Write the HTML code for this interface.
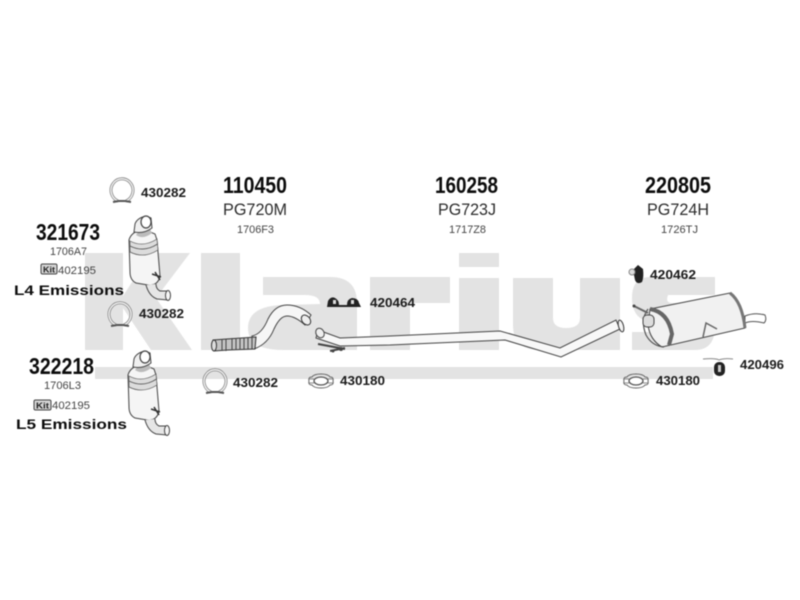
<!DOCTYPE html>
<html><head><meta charset="utf-8"><style>
html,body{margin:0;padding:0;background:#fff;width:800px;height:600px;overflow:hidden}
svg{display:block;filter:blur(.55px)}
text{font-family:"Liberation Sans",sans-serif;fill:#222}
.l{font-weight:bold;font-size:12.5px;fill:#1c1c1c}
.s{font-size:11px;fill:#444}
.m{font-size:17px;fill:#2c2c2c}
.n{font-weight:bold;font-size:23px;fill:#0c0c0c}
.e{font-weight:bold;font-size:13.5px;fill:#0c0c0c}
.w{fill:#e3e3e3}
</style></head><body>
<svg width="800" height="600" viewBox="0 0 800 600" xmlns="http://www.w3.org/2000/svg">
<defs>
<g id="cat">
 <path d="M129 240 Q131 232 143 229 L155 234 L157 240 L160 276 Q158 286 148 285 L136 283 Q130 280 130 272 Z" fill="#f5f5f5" stroke="#444"/>
 <path d="M130 241 Q143 248 157 239 L158 250 Q144 259 130 252 Z" fill="#dcdcdc" stroke="#555" stroke-width=".7"/>
 <path d="M130 246 Q144 253 157.500 244" fill="none" stroke="#555" stroke-width=".8"/>
 <path d="M136 235 Q143 240 152 233 L150 229 L140 230 Z" fill="#bbb"/>
 <path d="M134 232 L135 224 Q137 218 146 216 L151 218 L152 228 Q144 234 134 232 Z" fill="#f0f0f0" stroke="#444"/>
 <ellipse cx="146" cy="222" rx="5" ry="6" fill="#fff" stroke="#444" stroke-width="1.200"/>
 <path d="M146 285 Q149 296 157 299 L168 300 Q171 296 168 291 L160 291 Q156 289 156 284" fill="#e6e6e6" stroke="#444"/>
 <ellipse cx="168" cy="295.500" rx="2.500" ry="5" fill="#f6f6f6" stroke="#444"/>
 <path d="M152 274 L161 277 M155 272 L160 280" stroke="#333" stroke-width="1.500"/>
</g>
<g id="ring">
 <path d="M-4 10 A11 11.500 0 1 1 4 10" fill="none" stroke="#8a8a8a" stroke-width="3"/>
 <path d="M-4 10 A11 11.500 0 1 1 4 10" fill="none" stroke="#f2f2f2" stroke-width="1.400"/>
 <path d="M-9 11 L-3 10 L3 10 L9 11" fill="none" stroke="#555" stroke-width="2"/>
</g>
<g id="oval">
 <ellipse cx="0" cy="0" rx="7" ry="4" fill="#fff" stroke="#555" stroke-width="1.300"/>
 <path d="M-9 -4 Q-13 -4 -12 0 Q-13 4 -9 4 Q-7 7 0 7 Q7 7 9 4 Q13 4 12 0 Q13 -4 9 -4 Q7 -7 0 -7 Q-7 -7 -9 -4 Z" fill="none" stroke="#666"/>
 <path d="M-12 -2H-7M-12 2H-7M7 -2H12M7 2H12" stroke="#666" stroke-width=".8"/>
</g>
</defs>

<!-- watermark -->
<path class="w" d="M85 253H123V296L151 253H190L156 298L192 350H151L123 308V350H85Z"/>
<rect class="w" x="201" y="253" width="39" height="97"/>
<path class="w" d="M263 277H330Q357 277 357 303V350H283Q248 350 248 328Q248 306 283 305L320 304Q320 295 305 295H263Z"/>
<rect class="w" x="370" y="277" width="40" height="73"/>
<path class="w" d="M405 277H450V303H410Z"/>
<rect class="w" x="459" y="253" width="40" height="14"/>
<rect class="w" x="459" y="278" width="40" height="72"/>
<path class="w" d="M513 278H553V318Q553 328 566 328Q580 328 580 318V278H620V350H540Q513 350 513 325Z"/>
<path class="w" d="M650 277H715V295H668Q665 303 672 303H695Q715 305 715 326Q715 350 695 350H632V332H678Q682 325 675 322H652Q632 320 632 298Q632 277 650 277Z"/>
<rect class="w" x="95" y="367" width="618" height="12"/>

<!-- clamps -->
<use href="#ring" x="122" y="191"/>
<use href="#ring" x="120" y="315"/>
<use href="#ring" x="215" y="382"/>
<use href="#oval" x="321" y="381"/>
<use href="#oval" x="636" y="381"/>

<!-- catalysts -->
<use href="#cat"/>
<use href="#cat" x="-1" y="135"/>

<!-- flex pipe -->
<path d="M252 336 Q262 334 268 319 Q275 305 287 305 Q300 305 311 315 L305 325 Q295 316 287 316 Q280 316 274 329 Q268 344 254 349 Z" fill="#f6f6f6" stroke="#444"/>
<ellipse cx="306" cy="320" rx="4" ry="5.500" transform="rotate(-40 306 320)" fill="#eee" stroke="#333"/>
<path d="M213 340 L227 339 L256 337 L255 349 L228 350 L214 351 Z" fill="#c4c4c4" stroke="#333"/>
<path d="M222 339V351M226 339V351M232 338V350M236 338V350M240 338V350M244 338V350M248 337V349M252 337V349" stroke="#444" stroke-width="1"/>
<ellipse cx="214" cy="345.500" rx="2.500" ry="5.500" fill="#ddd" stroke="#333"/>

<!-- centre pipe -->
<path d="M318 330 L340 338 L390 336 L500 331 L560 348 L616 320 L620 329 L561 357 L505 340 L390 345 L340 346 L316 338 Z" fill="#f8f8f8" stroke="#444"/>
<ellipse cx="320" cy="333" rx="4" ry="5" transform="rotate(-30 320 333)" fill="#eee" stroke="#444"/>
<ellipse cx="621" cy="326" rx="2.500" ry="6" transform="rotate(-15 621 326)" fill="#f4f4f4" stroke="#333"/>
<path d="M318 344 L345 349 M330 351 L345 348" stroke="#444" stroke-width="2" fill="none"/>
<circle cx="333" cy="351" r="1.500" fill="#444"/><circle cx="341" cy="349" r="2" fill="#444"/>

<!-- hanger 420464 -->
<path d="M327 307 L328 301 Q331 296 335 298 Q339 300 339 305 L347 305 Q347 299 352 298 Q358 298 359 303 L361 307 Z" fill="#222"/>
<rect x="333" y="300" width="3" height="4" fill="#ddd"/><rect x="351" y="300" width="3" height="4" fill="#ddd"/>

<!-- muffler -->
<path d="M745 316 Q755 312 765 315 Q767 320 764 323 Q752 320 745 323 Z" fill="#fff" stroke="#555"/>
<path d="M650 309 L730 293 Q741 300 744 318 L745 328 L662 347 Q650 340 648 325 Z" fill="#f1f1f1" stroke="#444"/>
<path d="M730 293 Q742 302 745 328" fill="none" stroke="#777" stroke-width="3"/>
<path d="M650 309 Q668 312 672 334 L669 345" fill="none" stroke="#666" stroke-width="4"/>
<path d="M648 309 Q640 320 646 335 Q652 346 664 347" fill="none" stroke="#555" stroke-width="1.200"/>
<rect x="643" y="315" width="11" height="12" rx="4" fill="#ddd" stroke="#444"/>
<path d="M634 306 L648 313" stroke="#666" stroke-width="2"/><circle cx="634" cy="306" r="1.500" fill="#444"/>
<path d="M703 337 L706 323 L717 329" fill="none" stroke="#666" stroke-width="1.500"/>

<!-- hangers -->
<path d="M633 270 L638 265 L643 269 Q644 277 642 282 Q637 285 635 280 Z" fill="#222"/>
<circle cx="632" cy="272" r="3" fill="#ddd" stroke="#888"/>
<path d="M703 359 Q716 358 719 360 Q724 358 733 359" fill="none" stroke="#888"/>
<rect x="714" y="362" width="11" height="14" rx="5" fill="#222"/>
<rect x="718" y="365" width="3" height="7" fill="#ccc"/>

<!-- labels -->
<text class="l" x="141" y="197" textLength="45" lengthAdjust="spacingAndGlyphs">430282</text>
<text class="n" x="36" y="240" textLength="64" lengthAdjust="spacingAndGlyphs">321673</text>
<text class="s" x="50" y="255" textLength="37" lengthAdjust="spacingAndGlyphs">1706A7</text>
<rect x="41" y="264" width="16" height="10" rx="1.500" fill="#d4d4d4" stroke="#444"/>
<text x="43" y="272.500" font-size="8" font-weight="bold" textLength="12" lengthAdjust="spacingAndGlyphs">Kit</text>
<text class="s" x="58" y="274" textLength="38" lengthAdjust="spacingAndGlyphs">402195</text>
<text class="e" x="14" y="295" textLength="110" lengthAdjust="spacingAndGlyphs">L4 Emissions</text>
<text class="l" x="139" y="318" textLength="45" lengthAdjust="spacingAndGlyphs">430282</text>

<text class="n" x="29" y="374" textLength="65" lengthAdjust="spacingAndGlyphs">322218</text>
<text class="s" x="44" y="389" textLength="37" lengthAdjust="spacingAndGlyphs">1706L3</text>
<rect x="34" y="400" width="17" height="10" rx="1.500" fill="#d4d4d4" stroke="#444"/>
<text x="36" y="408.500" font-size="8" font-weight="bold" textLength="13" lengthAdjust="spacingAndGlyphs">Kit</text>
<text class="s" x="52" y="409" textLength="38" lengthAdjust="spacingAndGlyphs">402195</text>
<text class="e" x="16" y="429" textLength="111" lengthAdjust="spacingAndGlyphs">L5 Emissions</text>

<text class="n" x="223" y="193" textLength="64" lengthAdjust="spacingAndGlyphs">110450</text>
<text class="m" x="223" y="215" textLength="64" lengthAdjust="spacingAndGlyphs">PG720M</text>
<text class="s" x="237" y="233" textLength="37" lengthAdjust="spacingAndGlyphs">1706F3</text>

<text class="n" x="435" y="193" textLength="63" lengthAdjust="spacingAndGlyphs">160258</text>
<text class="m" x="438" y="215" textLength="58" lengthAdjust="spacingAndGlyphs">PG723J</text>
<text class="s" x="449" y="233" textLength="37" lengthAdjust="spacingAndGlyphs">1717Z8</text>

<text class="n" x="645" y="193" textLength="66" lengthAdjust="spacingAndGlyphs">220805</text>
<text class="m" x="647" y="215" textLength="62" lengthAdjust="spacingAndGlyphs">PG724H</text>
<text class="s" x="661" y="233" textLength="37" lengthAdjust="spacingAndGlyphs">1726TJ</text>

<text class="l" x="370" y="307" textLength="45" lengthAdjust="spacingAndGlyphs">420464</text>
<text class="l" x="233" y="387" textLength="45" lengthAdjust="spacingAndGlyphs">430282</text>
<text class="l" x="340" y="385" textLength="45" lengthAdjust="spacingAndGlyphs">430180</text>
<text class="l" x="650" y="279" textLength="46" lengthAdjust="spacingAndGlyphs">420462</text>
<text class="l" x="740" y="369" textLength="44" lengthAdjust="spacingAndGlyphs">420496</text>
<text class="l" x="656" y="385" textLength="44" lengthAdjust="spacingAndGlyphs">430180</text>
</svg>
</body></html>
